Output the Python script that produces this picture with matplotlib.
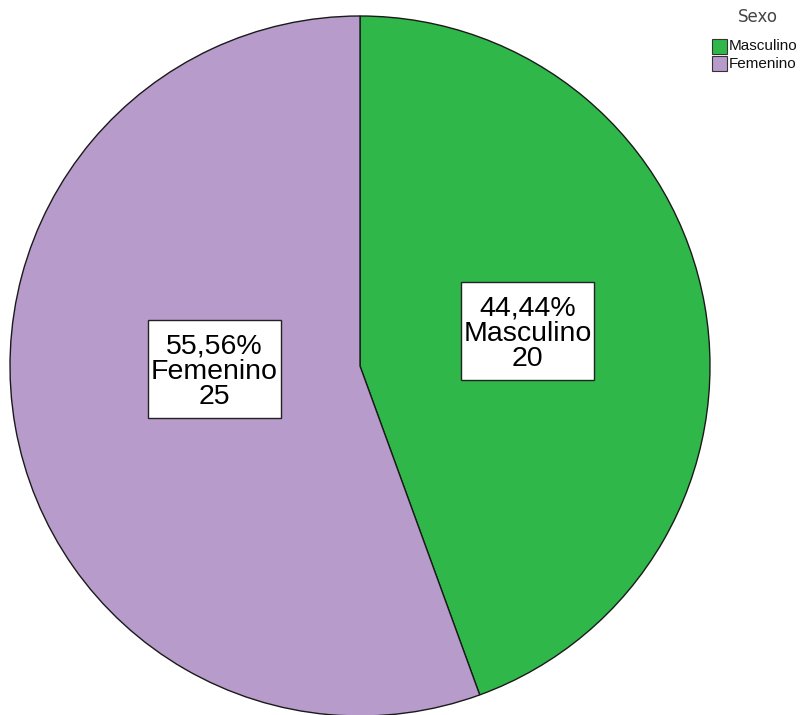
import matplotlib
matplotlib.use("Agg")
import matplotlib.pyplot as plt
from matplotlib.patches import Rectangle

plt.rcParams['font.family'] = ['Liberation Sans', 'DejaVu Sans']

categories = ["Masculino", "Femenino"]
counts = [20, 25]
colors = ["#2fb74a", "#b79bcb"]
legend_title = "Sexo"

W, H = 804, 715
fig = plt.figure(figsize=(W / 100, H / 100), dpi=100)
fig.patch.set_facecolor("white")

# pie centre at (360, 366) px, radius 350 px
cx, cy, r = 360, 366, 350
ax = fig.add_axes([(cx - r) / W, (H - cy - r) / H, 2 * r / W, 2 * r / H])
ax.axis("off")

total = sum(counts)
wedges, _ = ax.pie(counts, colors=colors, startangle=90, counterclock=False,
                   radius=1, center=(0, 0), frame=False,
                   wedgeprops=dict(edgecolor="#1a1a1a", linewidth=1.0))
ax.set_xlim(-1, 1)
ax.set_ylim(-1, 1)

# label boxes (centre in axes data units)
label_pos = [(0.479, 0.10), (-0.417, -0.009)]
box_w, box_h = 133 / r, 98 / r
for cat, n, (x, y) in zip(categories, counts, label_pos):
    pct = f"{n / total * 100:.2f}".replace(".", ",") + "%"
    ax.add_patch(Rectangle((x - box_w / 2, y - box_h / 2), box_w, box_h,
                           facecolor="white", edgecolor="#222222",
                           linewidth=1.0, zorder=3))
    ax.text(x, y - 0.008, f"{pct}\n{cat}\n{n}", ha="center", va="center",
            fontsize=20.5, linespacing=0.97, color="black", zorder=4)


# legend drawn in figure pixel coordinates
def fx(px):
    return px / W


def fy(py):
    return 1 - py / H


fig.text(fx(758), fy(17), legend_title, ha="center", va="center",
         fontsize=12, color="#444444", family="DejaVu Sans")
for i, (cat, col) in enumerate(zip(categories, colors)):
    top = 39 + i * 17
    fig.add_artist(Rectangle((fx(712), fy(top + 15)), 15 / W, 15 / H,
                             transform=fig.transFigure, facecolor=col,
                             edgecolor="#333333", linewidth=0.8))
    fig.text(fx(729), fy(top + 7.5), cat, ha="left", va="center",
             fontsize=11, color="#111111")

fig.savefig("out.png", dpi=100, facecolor="white")
